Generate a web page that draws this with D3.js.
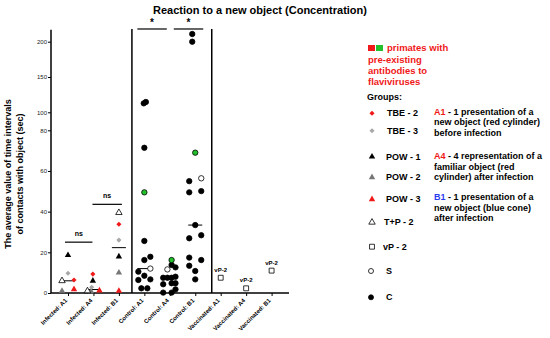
<!DOCTYPE html>
<html>
<head>
<meta charset="utf-8">
<script src="https://d3js.org/d3.v7.min.js"></script>
<style>
body { margin: 0; background: #fff; }
text { font-family: "Liberation Sans", Arial, sans-serif; }
</style>
</head>
<body>
<div id="chart"></div>
<script>
var categories = ["Infected: A1", "Infected: A4", "Infected: B1", "Control: A1", "Control: A4", "Control: B1", "Vaccinated: A1", "Vaccinated: A4", "Vaccinated: B1"];
var yTicks = [0, 20, 40, 60, 80, 100, 150, 200];

// [category, value, slot in the swarm]
var tbe2 = [["Infected: A1", 6.4, 1], ["Infected: A4", 9.3, -0.1], ["Infected: B1", 33.8, 0]];
var tbe3 = [["Infected: A1", 9.7, 0], ["Infected: A4", 2.8, -0.3], ["Infected: B1", 26, 0]];
var pow1 = [["Infected: A1", 18.6, 0], ["Infected: A4", 6.0, -0.1], ["Infected: B1", 17.9, 0]];
var pow2 = [["Infected: A1", 1.0, -1], ["Infected: A4", 0.8, -0.4], ["Infected: B1", 10, 0]];
var pow3 = [["Infected: A1", 1.8, 1], ["Infected: A4", 1.2, 1], ["Infected: B1", 1, 0]];
var tp2 = [["Infected: A1", 6.0, -1], ["Infected: A4", 1.0, -1], ["Infected: B1", 39.5, 0]];
var vp2 = [["Vaccinated: A1", 7.5, 0], ["Vaccinated: A4", 2.3, 0], ["Vaccinated: B1", 11, 0]];
var sGroup = [["Control: A1", 12, 1], ["Control: A4", 11.6, -0.4], ["Control: B1", 56.4, 1]];
var cGreen = [["Control: A1", 49.5, 0], ["Control: A4", 16.2, 0.3], ["Control: B1", 69, 0]];
var cGroup = [
	["Control: A1", 114.6, 0.25], ["Control: A1", 112.7, -0.1], ["Control: A1", 71.4, 0], ["Control: A1", 25.6, 0],
	["Control: A1", 17.8, 1], ["Control: A1", 16.2, 0], ["Control: A1", 10.5, -1], ["Control: A1", 8.5, 0],
	["Control: A1", 6.4, -1], ["Control: A1", 6.7, 1], ["Control: A1", 2.3, -0.5], ["Control: A1", 2.3, 0.5],
	["Control: A4", 13.8, 0.3], ["Control: A4", 12.6, 0.95], ["Control: A4", 7.5, -1.1], ["Control: A4", 7.5, -0.4],
	["Control: A4", 7.5, 0.3], ["Control: A4", 8.0, 0.95], ["Control: A4", 4.3, -1.1], ["Control: A4", 4.8, 0.3],
	["Control: A4", 4.8, 0.95], ["Control: A4", 0.2, -1.1], ["Control: A4", 0.2, 0.3], ["Control: A4", 1.8, 0.95],
	["Control: B1", 210.9, -0.5], ["Control: B1", 200, -0.5], ["Control: B1", 55, -1], ["Control: B1", 50.1, 1],
	["Control: B1", 49.5, -1], ["Control: B1", 33.4, 0], ["Control: B1", 28.4, 1], ["Control: B1", 26.9, -1],
	["Control: B1", 17.4, -1], ["Control: B1", 16.2, 1], ["Control: B1", 13.4, -1], ["Control: B1", 10.8, 0],
	["Control: B1", 6.7, 0]
];
var medians = [["Infected: A1", 6.0], ["Infected: A4", 1.7], ["Infected: B1", 22.3], ["Control: A1", 12], ["Control: A4", 7.5], ["Control: B1", 33.4]];

var legendLabels = ["TBE - 2", "TBE - 3", "POW - 1", "POW - 2", "POW - 3", "T+P - 2", "vP - 2", "S", "C"];
var antibodyText = ["primates with", "pre-existing", "antibodies to", "flaviviruses"];
var descriptions = [
	{key: "A1", lines: [" - 1 presentation of a", "new object (red cylinder)", "before infection"]},
	{key: "A4", lines: [" - 4 representation of a", "familiar object (red", "cylinder) after infection"]},
	{key: "B1", lines: [" - 1 presentation of a", "new object (blue cone)", "after infection"]}
];

var RED = "#f01818", GREEN = "#22c02a", BLUE = "#2a3cf0";

var svg = d3.select("#chart").append("svg")
	.attr("width", 550)
	.attr("height", 338);

var x = d3.scalePoint().domain(categories).range([68, 271.6]);
var y = d3.scaleLinear().domain([0, 80, 100, 200]).range([293, 130.3, 112.3, 41.7]);
var slotW = 6;

// title
svg.append("text")
	.attr("x", 260).attr("y", 14)
	.attr("text-anchor", "middle")
	.style("font-size", "11px").style("font-weight", "bold")
	.text("Reaction to a new object (Concentration)");

// y axis
var yAxis = d3.axisLeft(y).tickValues(yTicks).tickSize(3).tickSizeOuter(0);
var gy = svg.append("g").attr("transform", "translate(51,0)").call(yAxis);
gy.select(".domain").remove();
gy.selectAll("text").style("font-size", "6px").attr("fill", "#222").attr("x", -4);
gy.selectAll("line").attr("stroke-width", 1);
svg.append("line").attr("x1", 51).attr("x2", 51).attr("y1", y(217)).attr("y2", y(0))
	.attr("stroke", "#000").attr("stroke-width", 1.5);

svg.append("g").attr("transform", "translate(11,174) rotate(-90)")
	.selectAll("text")
	.data(["The average value of time intervals", "of contacts with object (sec)"])
	.enter().append("text")
	.attr("y", function(d, i){ return i * 12; })
	.attr("text-anchor", "middle")
	.style("font-size", "9px").style("font-weight", "bold")
	.text(function(d){ return d; });

// x axis
var xAxis = d3.axisBottom(x).tickSize(3).tickSizeOuter(0);
var gx = svg.append("g").attr("transform", "translate(0," + y(0) + ")").call(xAxis);
gx.select(".domain").remove();
gx.selectAll("line").attr("stroke-width", 1);
gx.selectAll("text")
	.style("font-size", "6px").style("font-weight", "bold")
	.attr("text-anchor", "end")
	.attr("x", 0).attr("y", 0).attr("dy", 0)
	.attr("transform", "translate(-1,8) rotate(-45)");
svg.append("line").attr("x1", 51).attr("x2", 289).attr("y1", y(0)).attr("y2", y(0))
	.attr("stroke", "#000").attr("stroke-width", 1.5);

// control frame
var leftFrame = (x("Infected: B1") + x("Control: A1")) / 2 + 0.3;
var rightFrame = x("Control: B1") + 16.5;
[leftFrame, rightFrame].forEach(function(fx){
	svg.append("line").attr("x1", fx).attr("x2", fx).attr("y1", y(218)).attr("y2", y(0))
		.attr("stroke", "#000").attr("stroke-width", 1.5);
});

// significance bars
var sigBars = [
	{x1: x("Infected: A1") - 3, x2: x("Infected: A4") - 1, v: 25, label: "ns"},
	{x1: x("Infected: A4") - 1, x2: x("Infected: B1") + 3, v: 43.6, label: "ns"},
	{x1: x("Control: A1") - 7, x2: x("Control: A4") - 3, v: 218, label: "*"},
	{x1: x("Control: A4") + 4, x2: x("Control: B1") + 8, v: 218, label: "*"}
];
sigBars.forEach(function(b){
	svg.append("line").attr("x1", b.x1).attr("x2", b.x2).attr("y1", y(b.v)).attr("y2", y(b.v))
		.attr("stroke", "#000").attr("stroke-width", 1.2);
	svg.append("text").attr("x", (b.x1 + b.x2) / 2)
		.attr("y", b.label == "*" ? y(b.v) - 3 : y(b.v) - 6)
		.attr("text-anchor", "middle")
		.style("font-size", b.label == "*" ? "10px" : "7px")
		.style("font-weight", "bold")
		.text(b.label);
});

// medians
svg.selectAll("line.median")
	.data(medians)
	.enter().append("line")
	.attr("class", "median")
	.attr("x1", function(d){ return x(d[0]) - 7; })
	.attr("x2", function(d){ return x(d[0]) + 7; })
	.attr("y1", function(d){ return y(d[1]); })
	.attr("y2", function(d){ return y(d[1]); })
	.attr("stroke", "#000").attr("stroke-width", 1);

// markers
var tri = d3.symbol().type(d3.symbolTriangle).size(18);
var dia = d3.symbol().type(d3.symbolSquare).size(13);
var sq = d3.symbol().type(d3.symbolSquare).size(24);

function px(d){ return x(d[0]) + d[2] * slotW; }

function drawSymbols(arr, path, fill, stroke, rot){
	svg.append("g").selectAll("path")
		.data(arr)
		.enter().append("path")
		.attr("d", path)
		.attr("transform", function(d){ return "translate(" + px(d) + "," + y(d[1]) + ")" + (rot ? " rotate(45)" : ""); })
		.attr("fill", fill)
		.attr("stroke", stroke)
		.attr("stroke-width", stroke == "none" ? 0 : 0.8);
}
function drawCircles(arr, fill, stroke){
	svg.append("g").selectAll("circle")
		.data(arr)
		.enter().append("circle")
		.attr("cx", px)
		.attr("cy", function(d){ return y(d[1]); })
		.attr("r", 2.7)
		.attr("fill", fill)
		.attr("stroke", stroke)
		.attr("stroke-width", 0.8);
}

drawSymbols(pow2, tri, "#777", "none");
drawSymbols(tp2, tri, "#fff", "#000");
drawSymbols(tbe3, dia, "#a8a8a8", "none", true);
drawSymbols(pow1, tri, "#000", "none");
drawSymbols(tbe2, dia, RED, "none", true);
drawSymbols(pow3, tri, RED, "none");
drawSymbols(vp2, sq, "#fff", "#000");
drawCircles(cGroup, "#000", "#000");
drawCircles(cGreen, GREEN, "#000");
drawCircles(sGroup, "#fff", "#000");

svg.selectAll("text.vp")
	.data(vp2)
	.enter().append("text")
	.attr("class", "vp")
	.attr("x", px)
	.attr("y", function(d){ return y(d[1]) - 6; })
	.attr("text-anchor", "middle")
	.style("font-size", "6px").style("font-weight", "bold")
	.text("vP-2");

// legend: antibodies
svg.append("rect").attr("x", 368).attr("y", 45).attr("width", 7).attr("height", 6).attr("fill", RED);
svg.append("rect").attr("x", 376).attr("y", 45).attr("width", 7).attr("height", 6).attr("fill", GREEN);
svg.selectAll("text.ab")
	.data(antibodyText)
	.enter().append("text")
	.attr("class", "ab")
	.attr("x", function(d, i){ return i == 0 ? 387 : 368; })
	.attr("y", function(d, i){ return 48 + i * 11.2; })
	.attr("dy", "0.35em")
	.attr("fill", RED)
	.style("font-size", "9.5px").style("font-weight", "bold")
	.text(function(d){ return d; });

svg.append("text").attr("x", 367).attr("y", 97).attr("dy", "0.35em")
	.style("font-size", "9px").style("font-weight", "bold").text("Groups:");

// legend: groups
var legendY = [113.3, 130.7, 156.7, 177.3, 199.3, 222.3, 246.7, 271, 297.3];
var legendX = [387, 387, 386, 386, 386, 384, 383, 386, 386];
var legendSym = [
	{p: dia, f: RED, s: "none", r: true}, {p: dia, f: "#a8a8a8", s: "none", r: true},
	{p: tri, f: "#000", s: "none"}, {p: tri, f: "#777", s: "none"}, {p: tri, f: RED, s: "none"},
	{p: tri, f: "#fff", s: "#000"}, {p: sq, f: "#fff", s: "#000"},
	{c: true, f: "#fff", s: "#000"}, {c: true, f: "#000", s: "#000"}
];
legendLabels.forEach(function(lab, i){
	var ly = legendY[i];
	var sym = legendSym[i];
	if (sym.c) {
		svg.append("circle").attr("cx", 371).attr("cy", ly).attr("r", 2.5)
			.attr("fill", sym.f).attr("stroke", sym.s).attr("stroke-width", 0.8);
	} else {
		svg.append("path").attr("d", sym.p)
			.attr("transform", "translate(" + 372 + "," + ly + ")" + (sym.r ? " rotate(45)" : ""))
			.attr("fill", sym.f).attr("stroke", sym.s).attr("stroke-width", sym.s == "none" ? 0 : 0.8);
	}
	svg.append("text").attr("x", legendX[i]).attr("y", ly).attr("dy", "0.35em")
		.style("font-size", "9px").style("font-weight", "bold").text(lab);
});

// legend: descriptions
var descY = [111.7, 156, 197.3];
descriptions.forEach(function(d, i){
	d.lines.forEach(function(line, j){
		var t = svg.append("text").attr("x", 434).attr("y", descY[i] + j * 10.5).attr("dy", "0.35em")
			.style("font-size", "9px").style("font-weight", "bold");
		if (j == 0) {
			t.append("tspan").attr("fill", d.key == "B1" ? BLUE : RED).text(d.key);
		}
		t.append("tspan").text(line);
	});
});
</script>
</body>
</html>
